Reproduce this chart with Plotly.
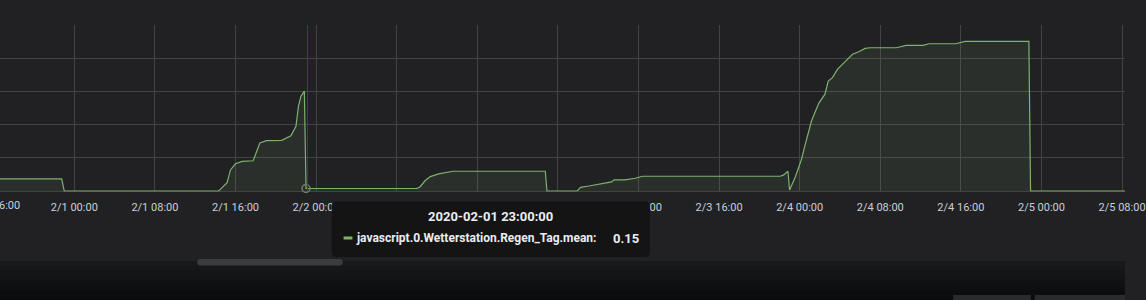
import plotly.graph_objects as go
import pandas as pd

# ---------------- data ----------------
times = [
    "2020-01-31 16:00", "2020-01-31 22:45", "2020-01-31 23:00",
    "2020-02-01 14:20", "2020-02-01 15:10", "2020-02-01 15:30", "2020-02-01 16:00",
    "2020-02-01 16:40", "2020-02-01 17:45", "2020-02-01 18:05", "2020-02-01 18:25",
    "2020-02-01 19:05", "2020-02-01 20:35", "2020-02-01 21:30", "2020-02-01 22:00",
    "2020-02-01 22:15", "2020-02-01 22:30", "2020-02-01 22:50", "2020-02-01 23:00",
    "2020-02-02 10:00", "2020-02-02 10:20", "2020-02-02 10:50", "2020-02-02 11:20",
    "2020-02-02 12:10", "2020-02-02 13:05", "2020-02-02 13:35", "2020-02-02 22:45",
    "2020-02-02 22:55",
    "2020-02-03 01:55", "2020-02-03 02:15", "2020-02-03 03:05", "2020-02-03 04:05",
    "2020-02-03 04:35", "2020-02-03 05:20", "2020-02-03 05:35", "2020-02-03 06:40",
    "2020-02-03 07:40", "2020-02-03 08:25", "2020-02-03 22:05", "2020-02-03 22:25",
    "2020-02-03 22:50", "2020-02-03 23:00", "2020-02-03 23:35", "2020-02-03 23:50",
    "2020-02-04 00:10", "2020-02-04 00:30", "2020-02-04 00:50", "2020-02-04 01:10",
    "2020-02-04 01:30", "2020-02-04 01:55", "2020-02-04 02:30", "2020-02-04 02:50",
    "2020-02-04 03:15", "2020-02-04 03:45", "2020-02-04 04:35", "2020-02-04 05:15",
    "2020-02-04 05:55", "2020-02-04 06:30", "2020-02-04 07:00", "2020-02-04 09:35",
    "2020-02-04 10:35", "2020-02-04 12:15", "2020-02-04 12:50", "2020-02-04 15:30",
    "2020-02-04 16:25", "2020-02-04 22:45", "2020-02-04 22:55",
    "2020-02-05 09:00",
]
values = [
    0.73, 0.73, 0.0,
    0.0, 0.50, 1.27, 1.64,
    1.78, 1.82, 2.38, 2.89,
    3.03, 3.05, 3.33, 3.90,
    5.11, 5.71, 6.02, 0.15,
    0.15, 0.26, 0.63, 0.87,
    1.03, 1.13, 1.19, 1.19,
    0.0,
    0.0, 0.22, 0.30, 0.42,
    0.50, 0.55, 0.67, 0.67,
    0.77, 0.89, 0.89, 0.97,
    1.19, 0.06, 0.87, 1.27,
    1.88, 2.69, 3.50, 4.20,
    4.71, 5.31, 5.82, 6.62,
    6.83, 7.33, 7.84, 8.24,
    8.40, 8.59, 8.63, 8.63,
    8.77, 8.77, 8.87, 8.87,
    9.01, 9.01, 0.0,
    0.0,
]
series_name = "javascript.0.Wetterstation.Regen_Tag.mean"
hover_time = "2020-02-01 23:00"
crosshair_time = "2020-02-01 23:09"
x_start = "2020-01-31 16:37:26"
x_end = "2020-02-05 08:17:30"
first_tick = "2020-01-31 16:00"
last_tick = "2020-02-05 08:00"
tick_hours = 8
covered_ticks = ["2020-02-02 08:00", "2020-02-02 16:00", "2020-02-03 00:00"]
y_min, y_max, y_step = -0.05, 10, 2

# ---------------- style ----------------
W, H = 1146, 300
PANEL = "#212124"
GRID = "#434346"
LINE = "#7EB26D"
FILL = "rgba(126,178,109,0.10)"
TICK = "#c7d0d9"
FONT = "Roboto"


def px(x):
    return x / W


def py(y):
    return 1 - y / H


tick_times = pd.date_range(first_tick, last_tick, freq=f"{tick_hours}h")
tick_vals = [t.strftime("%Y-%m-%d %H:%M") for t in tick_times]
tick_text = ["" if v in covered_ticks else f"{t.month}/{t.day} {t.strftime('%H:%M')}"
             for v, t in zip(tick_vals, tick_times)]

fig = go.Figure()
fig.add_trace(go.Scatter(
    x=times, y=values, mode="lines",
    line=dict(color=LINE, width=1.2),
    fill="tozeroy", fillcolor=FILL,
    name=series_name, showlegend=False, hoverinfo="skip",
))

hv = values[times.index(hover_time)]
fig.add_trace(go.Scatter(
    x=[hover_time], y=[hv], mode="markers",
    marker=dict(symbol="circle-open", size=8, color="#6f7f68", line=dict(width=1.5)),
    showlegend=False, hoverinfo="skip", cliponaxis=False,
))

shapes = []
# hover crosshair
shapes.append(dict(type="line", xref="x", yref="y", x0=crosshair_time, x1=crosshair_time,
                   y0=0, y1=y_max, line=dict(color="#a81616", width=1), layer="above"))

# darker page area below the panel (gradient bands)
band_cols = ["#18191c", "#161719", "#141517", "#121315", "#101113", "#0e0f11", "#0c0d0f", "#0b0c0e"]
top = 261
step = (H - top) / len(band_cols)
for i, c in enumerate(band_cols):
    shapes.append(dict(type="rect", xref="paper", yref="paper",
                       x0=0, x1=1, y0=py(top + (i + 1) * step + 0.5), y1=py(top + i * step),
                       fillcolor=c, line=dict(width=0), layer="above"))


def rrect(x0, y0, x1, y1, r, color):
    rx, ry = r / W, r / H
    X0, X1, Y0, Y1 = px(x0), px(x1), py(y1), py(y0)
    path = (f"M{X0+rx},{Y1} L{X1-rx},{Y1} Q{X1},{Y1} {X1},{Y1-ry} "
            f"L{X1},{Y0+ry} Q{X1},{Y0} {X1-rx},{Y0} L{X0+rx},{Y0} "
            f"Q{X0},{Y0} {X0},{Y0+ry} L{X0},{Y1-ry} Q{X0},{Y1} {X0+rx},{Y1} Z")
    return dict(type="path", xref="paper", yref="paper", path=path, fillcolor=color,
                line=dict(width=0), layer="above")


# scrollbar handle
shapes.append(rrect(201, 259, 349, 265.5, 3, "#3b3c40"))
# bottom-right buttons
shapes.append(dict(type="rect", xref="paper", yref="paper", x0=px(971), x1=px(1050),
                   y0=0, y1=py(295), fillcolor="#2a2b2f", line=dict(width=0), layer="above"))
shapes.append(dict(type="rect", xref="paper", yref="paper", x0=px(1054), x1=1,
                   y0=0, y1=py(295), fillcolor="#2a2b2f", line=dict(width=0), layer="above"))
# tooltip box
shapes.append(rrect(338, 201.5, 662, 257, 5, "#141414"))
shapes.append(dict(type="line", xref="paper", yref="paper", x0=px(350), x1=px(359),
                   y0=py(238), y1=py(238), line=dict(color=LINE, width=3), layer="above"))

title_txt = pd.Timestamp(hover_time).strftime("%Y-%m-%d %H:%M:%S")
ft = pd.Timestamp(first_tick)
# paper position of the tick just left of the visible range
ft_paper = (ft - pd.Timestamp(x_start)) / (pd.Timestamp(x_end) - pd.Timestamp(x_start))
annotations = [
    dict(text=f"<b>{title_txt}</b>", xref="paper", yref="paper", x=px(500), y=py(216),
         xanchor="center", yanchor="middle", showarrow=False,
         font=dict(family=FONT, size=13, color="#e9edf2")),
    dict(text=f"<b>{series_name}:</b>", xref="paper", yref="paper", x=px(361), y=py(238),
         xanchor="left", yanchor="middle", showarrow=False,
         font=dict(family=FONT, size=12, color="#e9edf2")),
    dict(text=f"<b>{hv:.2f}</b>", xref="paper", yref="paper", x=px(653), y=py(238),
         xanchor="right", yanchor="middle", showarrow=False,
         font=dict(family=FONT, size=13, color="#e9edf2")),
    dict(text=f"{ft.month}/{ft.day} {ft.strftime('%H:%M')}", xref="paper", yref="paper",
         x=ft_paper, y=py(205), xanchor="center", yanchor="middle", showarrow=False,
         font=dict(family=FONT, size=11, color=TICK)),
]

fig.update_layout(
    width=W, height=H, autosize=False,
    margin=dict(l=0, r=0, t=0, b=0, pad=0),
    paper_bgcolor=PANEL, plot_bgcolor=PANEL,
    shapes=shapes, annotations=annotations,
    font=dict(family=FONT, color=TICK),
    xaxis=dict(
        type="date", range=[x_start, x_end], domain=[0, 1],
        tickmode="array", tickvals=tick_vals, ticktext=tick_text,
        showgrid=True, gridcolor=GRID, gridwidth=1,
        ticks="outside", ticklen=5, tickcolor=PANEL,
        tickfont=dict(family=FONT, size=11, color=TICK),
        ticklabeloverflow="allow", showline=False, zeroline=False,
    ),
    yaxis=dict(
        range=[y_min, y_max], domain=[(H - 191.83) / H, (H - 25) / H],
        tick0=0, dtick=y_step, showticklabels=False, ticks="",
        showgrid=True, gridcolor=GRID, gridwidth=1,
        zeroline=True, zerolinecolor=GRID, zerolinewidth=1, showline=False,
    ),
    hovermode=False,
)

fig.write_html("out.html")
